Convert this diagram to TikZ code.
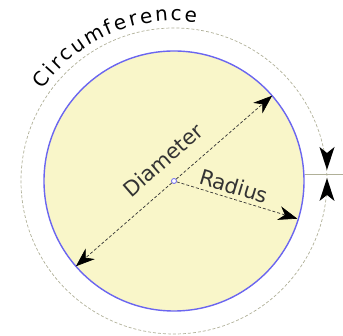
\documentclass[tikz,border=0pt]{standalone}
\usepackage{fontspec}
\setmainfont{DejaVu Sans}
\usetikzlibrary{arrows.meta,decorations.text,calc}
\definecolor{fillyel}{HTML}{F9F6C9}
\definecolor{rimblue}{HTML}{6B66F0}
\definecolor{outerg}{HTML}{B0B098}
\definecolor{txtg}{HTML}{333333}
\tikzset{
  dimline/.style={densely dashed, draw=txtg, line width=0.7pt, -{Stealth[length=19pt,width=14pt,inset=6pt,black]}},
  lbl/.style={text=txtg, font=\fontsize{21}{21}\selectfont, inner sep=0pt},
  gaphead/.style={fill=black, draw=none}
}
\begin{document}
\begin{tikzpicture}[x=1pt,y=1pt]
\useasboundingbox (0,0) rectangle (343,336);
\coordinate (C) at (174,155);
% outer dashed circle
\draw[outerg, line width=0.7pt, dash pattern=on 3pt off 2pt] (C) circle[radius=153];
% inner filled circle
\draw[rimblue, fill=fillyel, line width=1.4pt] (C) circle[radius=130];
% points
\coordinate (D1) at ($(C)+(41:130)$);
\coordinate (D2) at ($(C)+(221:130)$);
\coordinate (R1) at ($(C)+(-17:129)$);
\node[circle, draw=rimblue, fill=white, line width=0.8pt, minimum size=5pt, inner sep=0pt] (ctr) at (C) {};
\draw[dimline] (ctr) -- (D1);
\draw[dimline] (ctr) -- (D2);
\draw[dimline] (ctr) -- (R1);
% labels
\node[lbl, rotate=41] (dia) at (163,176) {Diameter};
\node[lbl, rotate=-17] (rad) at (234,150) {Radius};
% gap line and arrows
\coordinate (g1) at (305,162);
\coordinate (g2) at (343,162);
\draw[outerg, line width=0.8pt] (g1) -- (g2);
\coordinate (ut) at (327,166);
\coordinate (lt) at (327,158);
\fill[gaphead] (ut) -- ++(-7.5,23) -- ++(7.5,-6) -- ++(7.5,6) -- cycle;
\fill[gaphead] (lt) -- ++(-7.5,-23) -- ++(7.5,6) -- ++(7.5,-6) -- cycle;
% circumference text
\path[decorate, decoration={text along path, text align=fit to path,
  text={|\fontsize{20}{20}\selectfont\color{black}|Circumference}}]
  ($(C)+(145:160)$) arc[start angle=145, end angle=82, radius=160];
\end{tikzpicture}
\end{document}
